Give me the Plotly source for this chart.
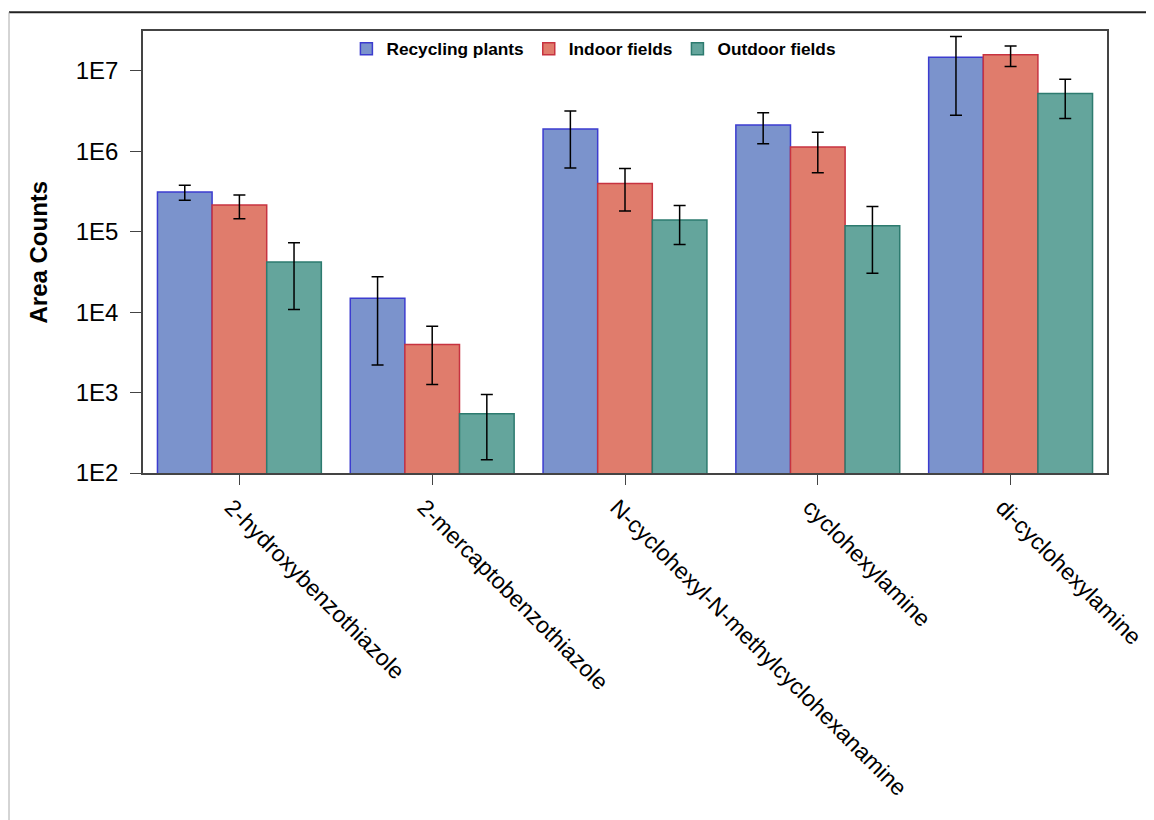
import plotly.graph_objects as go

categories = ["2-hydroxybenzothiazole", "2-mercaptobenzothiazole",
              "N-cyclohexyl-N-methylcyclohexanamine", "cyclohexylamine",
              "di-cyclohexylamine"]
series_names = ["Recycling plants", "Indoor fields", "Outdoor fields"]
recycling = [312000, 14900, 1890000, 2120000, 14700000]
recycling_err = [66000, 12700, 1270000, 880000, 11900000]
indoor = [215000, 3960, 396000, 1130000, 15800000]
indoor_err = [70000, 2700, 215000, 590000, 4500000]
outdoor = [41800, 546, 140000, 118000, 5200000]
outdoor_err = [31000, 400, 71000, 87500, 2650000]
tick_vals = [1e2, 1e3, 1e4, 1e5, 1e6, 1e7]
tick_text = ["1E2", "1E3", "1E4", "1E5", "1E6", "1E7"]

fills = ["#7b93cc", "#e07c6c", "#64a59c"]
lines = ["#3c3ccf", "#c73340", "#2d7b6f"]
FONT = "Liberation Sans, Arial, sans-serif"

fig = go.Figure()
for name, vals, errs, fc, lc in zip(series_names, [recycling, indoor, outdoor],
                                    [recycling_err, indoor_err, outdoor_err], fills, lines):
    fig.add_trace(go.Bar(
        x=categories, y=vals, name=name,
        marker=dict(color=fc, line=dict(color=lc, width=1.5)),
        error_y=dict(type="data", array=errs, visible=True, color="black",
                     thickness=1.5, width=6),
    ))

# page has an 8px body margin; figure placed at (8, 8)
OFF = 8
W, H = 1154 - OFF, 820 - OFF
L, T = 143 - OFF, 31 - OFF
pw, ph = 964, 442
R = W - L - pw
B = H - T - ph

def px_x(x_page):
    return (x_page - OFF - L) / pw

def px_y(y_page):
    return (T + ph - (y_page - OFF)) / ph

fig.update_layout(
    width=W, height=H,
    margin=dict(l=L, r=R, t=T, b=B, autoexpand=False),
    paper_bgcolor="white", plot_bgcolor="white",
    barmode="group", bargap=0.15, bargroupgap=0,
    font=dict(family=FONT, color="black", size=24),
    showlegend=True,
    legend=dict(orientation="h", x=0.211, xanchor="left", y=1.0, yanchor="top",
                font=dict(family=FONT, size=17.3, color="black", weight="bold"),
                bgcolor="rgba(0,0,0,0)", traceorder="normal"),
    xaxis=dict(type="category", range=[-0.5, 4.5], showline=True, linecolor="#444",
               linewidth=1.5, mirror=True, ticks="outside", ticklen=10, tickwidth=1,
               tickcolor="#444", tickangle=45, tickfont=dict(size=23),
               ticklabelshift=-8, showgrid=False, automargin=False),
    yaxis=dict(type="log", range=[2, 7.494], showline=True, linecolor="#444",
               linewidth=1.5, mirror=True, ticks="outside", ticklen=11, tickwidth=1,
               tickcolor="#444", tickvals=tick_vals, ticktext=tick_text,
               tickfont=dict(size=24), ticklabelstandoff=7, showgrid=False,
               zeroline=False, automargin=False),
    annotations=[dict(text="<b>Area Counts</b>", xref="paper", yref="paper",
                      x=px_x(37.5), y=0.5, textangle=-90, showarrow=False,
                      xanchor="center", yanchor="middle",
                      font=dict(family=FONT, size=24, color="black"))],
    shapes=[
        dict(type="line", xref="paper", yref="paper",
             x0=px_x(OFF + 1), x1=px_x(1160),
             y0=px_y(12.3), y1=px_y(12.3),
             line=dict(color="#222", width=2)),
        dict(type="line", xref="paper", yref="paper",
             x0=px_x(OFF + 1), x1=px_x(OFF + 1),
             y0=px_y(12.3), y1=px_y(830),
             line=dict(color="#aaa", width=1)),
    ],
)

fig.write_html("out.html")
